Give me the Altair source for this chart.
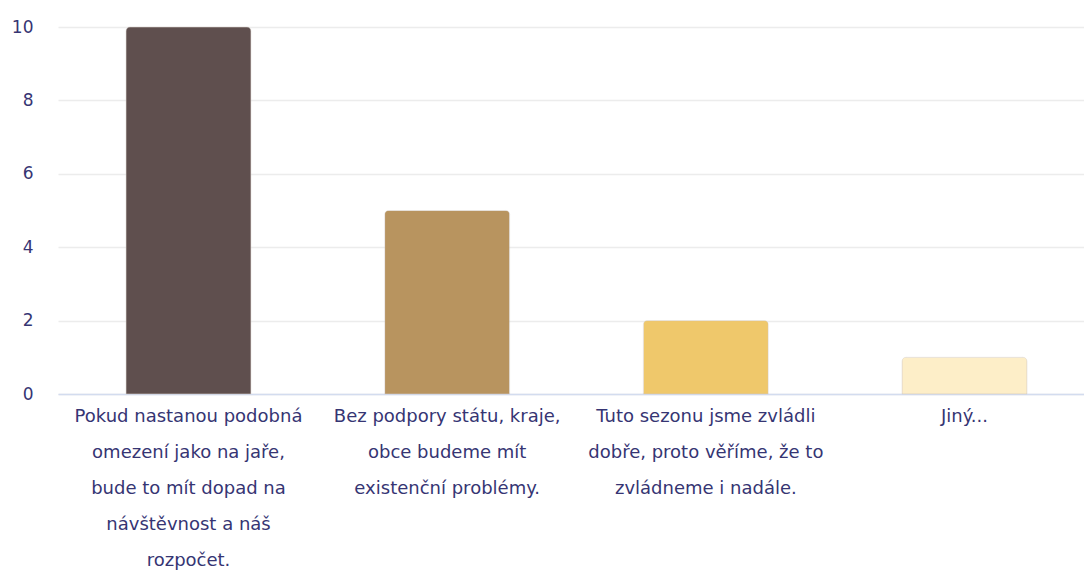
import altair as alt
import pandas as pd

categories = [
    "Pokud nastanou podobná|omezení jako na jaře,|bude to mít dopad na|návštěvnost a náš|rozpočet.",
    "Bez podpory státu, kraje,|obce budeme mít|existenční problémy.",
    "Tuto sezonu jsme zvládli|dobře, proto věříme, že to|zvládneme i nadále.",
    "Jiný...",
]
values = [10, 5, 2, 1]
colors = ["#5f4f4e", "#b8945f", "#efc86b", "#fdeec8"]

df = pd.DataFrame({"cat": categories, "val": values, "col": colors})

text_color = "#363573"

chart = (
    alt.Chart(df)
    .mark_bar(cornerRadiusTopLeft=4, cornerRadiusTopRight=4, stroke="#cfc7c0", strokeWidth=0.6, strokeOpacity=0.6)
    .encode(
        x=alt.X(
            "cat:N",
            sort=categories,
            scale=alt.Scale(paddingInner=0.517, paddingOuter=0.263, range=[0, 1037]),
            axis=alt.Axis(
                title=None,
                labelAngle=0,
                labelExpr="split(datum.label, '|')",
                labelFont="DejaVu Sans",
                labelFontSize=18,
                labelColor=text_color,
                labelLineHeight=36,
                labelPadding=13,
                labelBaseline="top",
                ticks=False,
                domainColor="#d3dcef",
                domainWidth=1.5,
                labelLimit=400,
            ),
        ),
        y=alt.Y(
            "val:Q",
            scale=alt.Scale(domain=[0, 10]),
            axis=alt.Axis(
                title=None,
                values=[0, 2, 4, 6, 8, 10],
                labelFont="DejaVu Sans",
                labelFontSize=17,
                labelColor=text_color,
                labelPadding=25,
                ticks=False,
                domain=False,
                gridColor="#ececec",
                gridWidth=1.5,
            ),
        ),
        color=alt.Color("col:N", scale=None, legend=None),
    )
    .properties(
        width=1026,
        height=367,
        autosize=alt.AutoSizeParams(type="none"),
        padding={"left": 58, "top": 27, "right": 0, "bottom": 178},
        background="white",
    )
    .configure_view(stroke=None)
)

chart.save("out.html", embed_options={"renderer": "svg", "actions": False})
